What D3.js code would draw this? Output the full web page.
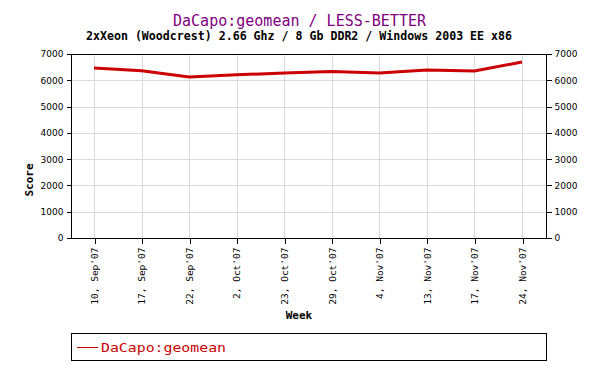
<!DOCTYPE html>
<html>
<head>
<meta charset="utf-8">
<script src="https://cdn.jsdelivr.net/npm/d3@7"></script>
<style>
  html, body { margin: 0; padding: 0; background: #fff; }
  svg { display: block; }
</style>
</head>
<body>
<svg id="chart" width="600" height="370"></svg>
<script>
// DaCapo geomean — semanas de sep a nov '07
const weeks = ["10, Sep'07", "17, Sep'07", "22, Sep'07", "2, Oct'07", "23, Oct'07",
               "29, Oct'07", "4, Nov'07", "13, Nov'07", "17, Nov'07", "24, Nov'07"];
const scores = [6465, 6365, 6125, 6210, 6275, 6335, 6275, 6390, 6350, 6695];
const yTicks = [0, 1000, 2000, 3000, 4000, 5000, 6000, 7000];

const m = { left: 71, right: 546, top: 54, bottom: 238 };
const svg = d3.select('#chart');
const mono = '"DejaVu Sans Mono", monospace';
const RED = '#cc0000';

const x = d3.scalePoint().domain(weeks).range([94, 522]);
const y = d3.scaleLinear().domain([0, 7000]).range([m.bottom, m.top]);

// grilla
const grid = svg.append('g').attr('shape-rendering', 'crispEdges');
grid.selectAll('line.v').data(weeks).join('line')
  .attr('x1', d => Math.round(x(d)) + 0.5).attr('x2', d => Math.round(x(d)) + 0.5)
  .attr('y1', m.top).attr('y2', m.bottom)
  .attr('stroke', '#d9d9d9');
grid.selectAll('line.h').data(yTicks.slice(1, -1)).join('line')
  .attr('x1', m.left).attr('x2', m.right)
  .attr('y1', d => Math.round(y(d)) + 0.5).attr('y2', d => Math.round(y(d)) + 0.5)
  .attr('stroke', '#d9d9d9');

// ejes
const fmtY = d3.format('d');
const axL = d3.axisLeft(y).tickValues(yTicks).tickFormat(fmtY).tickSize(5).tickPadding(3);
const axR = d3.axisRight(y).tickValues(yTicks).tickFormat(fmtY).tickSize(5).tickPadding(3);
const axB = d3.axisBottom(x).tickSize(5).tickSizeOuter(0);

function styleAxis(g) {
  g.attr('shape-rendering', 'crispEdges');
  g.select('.domain').attr('stroke', '#000');
  g.selectAll('.tick line').attr('stroke', '#000');
  g.selectAll('text').attr('font-family', '"DejaVu Sans", sans-serif').style('font-size', '9px').attr('fill', '#000');
}
svg.append('g').attr('transform', `translate(${m.left + 0.5},0)`).call(axL).call(styleAxis)
  .call(g => g.select('.domain').attr('d', `M0,${m.top}V${m.bottom}`));
svg.append('g').attr('transform', `translate(${m.right + 0.5},0)`).call(axR).call(styleAxis)
  .call(g => g.select('.domain').attr('d', `M0,${m.top}V${m.bottom}`));
const bx = svg.append('g').attr('transform', `translate(0,${m.bottom + 0.5})`).call(axB).call(styleAxis);
bx.select('.domain').attr('d', `M${m.left},0H${m.right + 1}`);
bx.selectAll('.tick line').attr('transform', 'translate(0.5,0)');
bx.selectAll('text')
  .attr('font-family', mono).style('font-size', '9.5px')
  .attr('text-anchor', 'end').attr('dy', '0.35em')
  .attr('transform', 'translate(0,5) rotate(-90)')
  .attr('x', -4).attr('y', 0);
svg.append('line').attr('shape-rendering', 'crispEdges')
  .attr('x1', m.left).attr('x2', m.right + 1).attr('y1', m.top + 0.5).attr('y2', m.top + 0.5)
  .attr('stroke', '#000');

// serie
svg.append('path').datum(scores)
  .attr('fill', 'none').attr('stroke', RED).attr('stroke-width', 3)
  .attr('d', d3.line().x((d, i) => x(weeks[i])).y(d => y(d)));

// títulos
svg.append('text').attr('x', 299.5).attr('y', 25.5).attr('text-anchor', 'middle')
  .attr('font-family', mono).style('font-size', '15px').attr('fill', '#800080')
  .attr('textLength', 253).attr('lengthAdjust', 'spacingAndGlyphs')
  .text('DaCapo:geomean / LESS-BETTER');
svg.append('text').attr('x', 299).attr('y', 40).attr('text-anchor', 'middle')
  .attr('font-family', mono).attr('font-weight', 700).style('font-size', '11.5px').attr('fill', '#000')
  .attr('textLength', 426).attr('lengthAdjust', 'spacingAndGlyphs')
  .text('2xXeon (Woodcrest) 2.66 Ghz / 8 Gb DDR2 / Windows 2003 EE x86');
svg.append('text').attr('transform', 'translate(33,180) rotate(-90)').attr('text-anchor', 'middle')
  .attr('font-family', mono).attr('font-weight', 700).style('font-size', '11px')
  .text('Score');
svg.append('text').attr('x', 299).attr('y', 319).attr('text-anchor', 'middle')
  .attr('font-family', mono).attr('font-weight', 700).style('font-size', '11px')
  .text('Week');

// leyenda
svg.append('rect').attr('x', 71.5).attr('y', 333.5).attr('width', 475).attr('height', 27)
  .attr('fill', 'none').attr('stroke', '#000').attr('shape-rendering', 'crispEdges');
svg.append('line').attr('x1', 77).attr('x2', 98).attr('y1', 347.5).attr('y2', 347.5)
  .attr('stroke', RED).attr('stroke-width', 1);
svg.append('text').attr('x', 101).attr('y', 352)
  .attr('font-family', mono).style('font-size', '13px').attr('fill', RED)
  .attr('textLength', 125).attr('lengthAdjust', 'spacingAndGlyphs')
  .text('DaCapo:geomean');
</script>
</body>
</html>
